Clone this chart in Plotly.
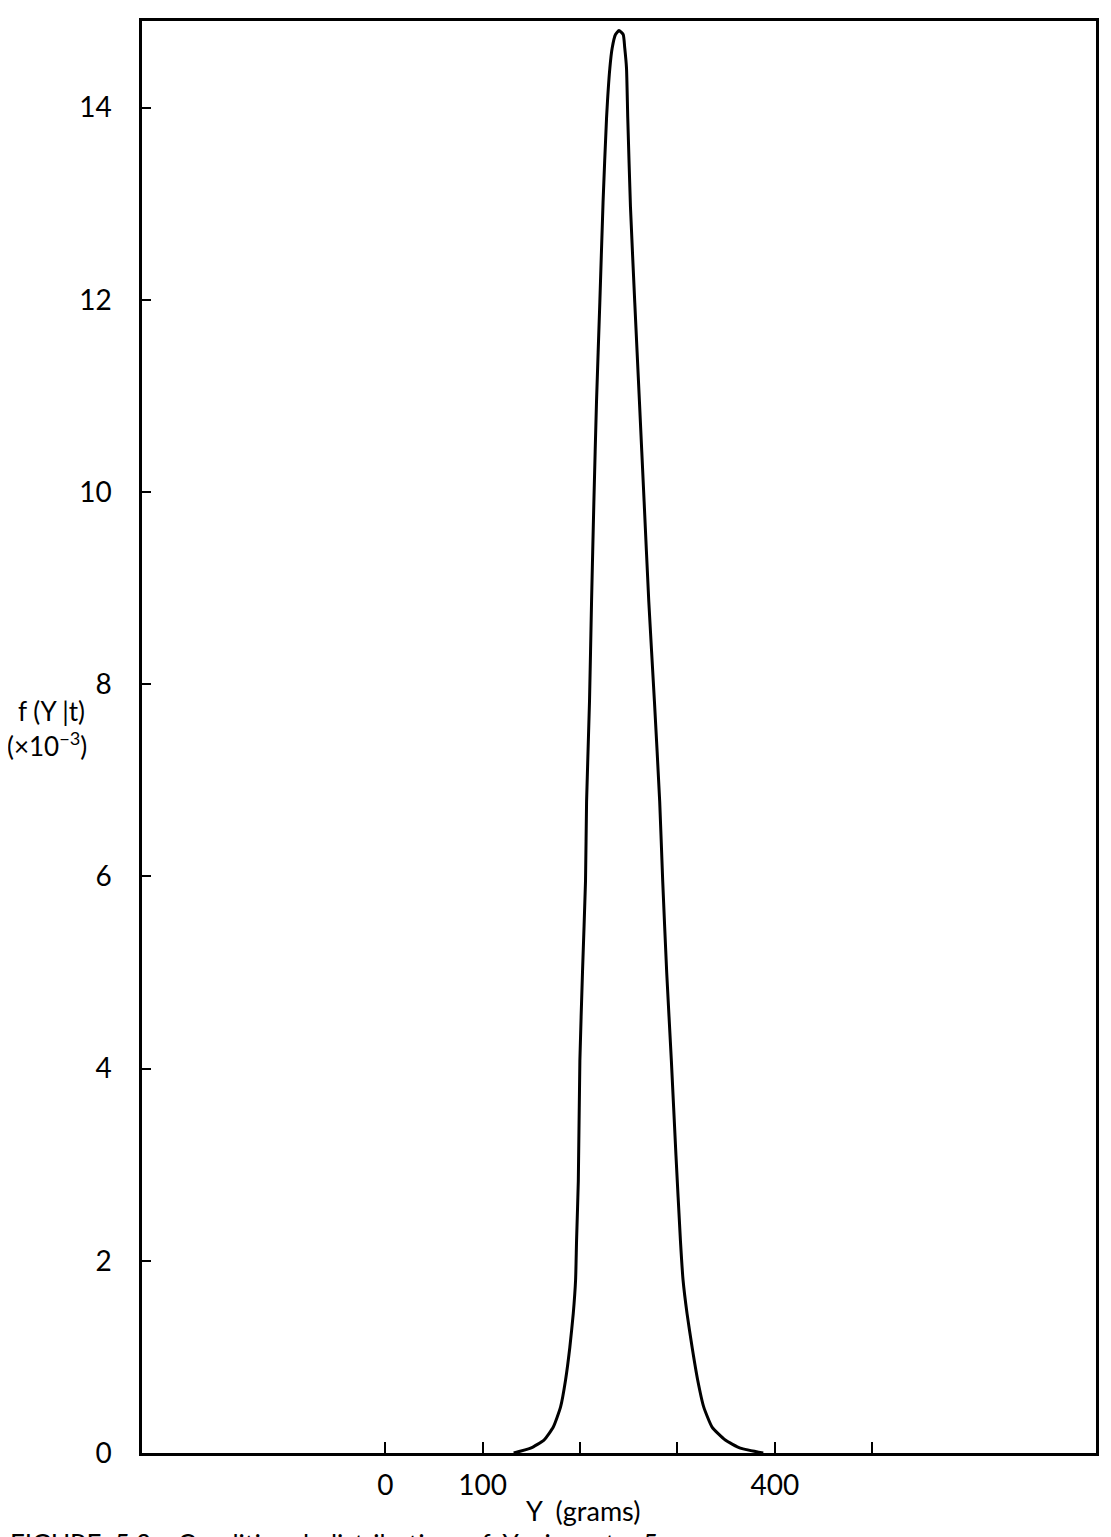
import plotly.graph_objects as go

# Conditional density f(Y|t) (x10^-3)
y_grams = [131.8, 149.2, 162.9, 172.5, 180.0, 185.1, 189.5, 193.0, 195.4, 196.4,
           198.2, 199.8, 202.5, 205.6, 206.7, 209.7, 211.8, 214.2, 216.9, 220.3,
           223.6, 227.2, 230.6, 233.0, 236.4, 240.0, 244.3, 245.9, 247.7, 249.0,
           251.8, 256.2, 261.0, 265.8, 270.6, 276.4, 281.8, 284.9, 289.0, 293.8,
           298.5, 303.1, 305.8, 309.9, 315.1, 320.8, 327.0, 335.6, 349.2, 364.6,
           388.2]
f_vals = [0.0, 0.05, 0.135, 0.27, 0.48, 0.76, 1.10, 1.45, 1.80, 2.21,
          2.83, 4.08, 5.0, 5.95, 6.78, 7.82, 8.86, 9.90, 10.94, 11.97,
          13.01, 13.89, 14.41, 14.62, 14.76, 14.80, 14.76, 14.62, 14.41, 13.89,
          12.96, 11.97, 10.94, 9.90, 8.86, 7.82, 6.78, 5.95, 5.0, 4.08,
          3.1, 2.21, 1.80, 1.45, 1.10, 0.76, 0.48, 0.27, 0.135, 0.05,
          0.0]

x_tickvals = [0, 100, 200, 300, 400, 500]
x_ticktext = ["0", "100", " ", " ", "400", " "]
y_tickvals = [0, 2, 4, 6, 8, 10, 12, 14]
y_ticktext = ["0", "2", "4", "6", "8", "10", "12", "14"]

FONT = "Lato, 'Open Sans', sans-serif"

fig = go.Figure()
fig.add_trace(go.Scatter(x=y_grams, y=f_vals, mode="lines",
                         line=dict(color="black", width=3, shape="spline", smoothing=0.5),
                         showlegend=False, hoverinfo="skip"))

fig.update_layout(
    width=1111, height=1537,
    margin=dict(l=134, r=23, t=10, b=92),
    paper_bgcolor="white", plot_bgcolor="white",
    font=dict(family=FONT, size=28, color="black"),
    showlegend=False,
)
fig.update_xaxes(range=[-250, 730], tickvals=x_tickvals, ticktext=x_ticktext,
                 ticks="inside", ticklen=11, tickwidth=2, tickcolor="black",
                 showline=True, linewidth=2.5, linecolor="black", mirror=True,
                 showgrid=False, zeroline=False, ticklabelstandoff=6,
                 tickfont=dict(family=FONT, size=28, color="black"))
fig.update_yaxes(range=[0, 14.9], tickvals=y_tickvals, ticktext=y_ticktext,
                 ticks="inside", ticklen=9, tickwidth=2, tickcolor="black",
                 showline=True, linewidth=2.5, linecolor="black", mirror=True,
                 showgrid=False, zeroline=False, ticklabelstandoff=22,
                 tickfont=dict(family=FONT, size=28, color="black"))

fig.add_annotation(text="Y  (grams)", xref="paper", yref="paper", x=0.462, y=-0.040,
                   xanchor="center", yanchor="middle", showarrow=False,
                   font=dict(family=FONT, size=27, color="black"))
fig.add_annotation(text="f (Y |t)", xref="paper", yref="paper", x=-0.095, y=0.518,
                   xanchor="center", yanchor="middle", showarrow=False,
                   font=dict(family=FONT, size=26, color="black"))
fig.add_annotation(text="(×10<sup>−3</sup>)", xref="paper", yref="paper", x=-0.1, y=0.495,
                   xanchor="center", yanchor="middle", showarrow=False,
                   font=dict(family=FONT, size=26, color="black"))
fig.add_annotation(text="FIGURE  5.3    Conditional  distribution  of  Y  given  t = 5",
                   xref="paper", yref="paper", x=-0.14, y=-0.051,
                   xanchor="left", yanchor="top", showarrow=False,
                   font=dict(family=FONT, size=26, color="black"))

fig.write_html("out.html")
